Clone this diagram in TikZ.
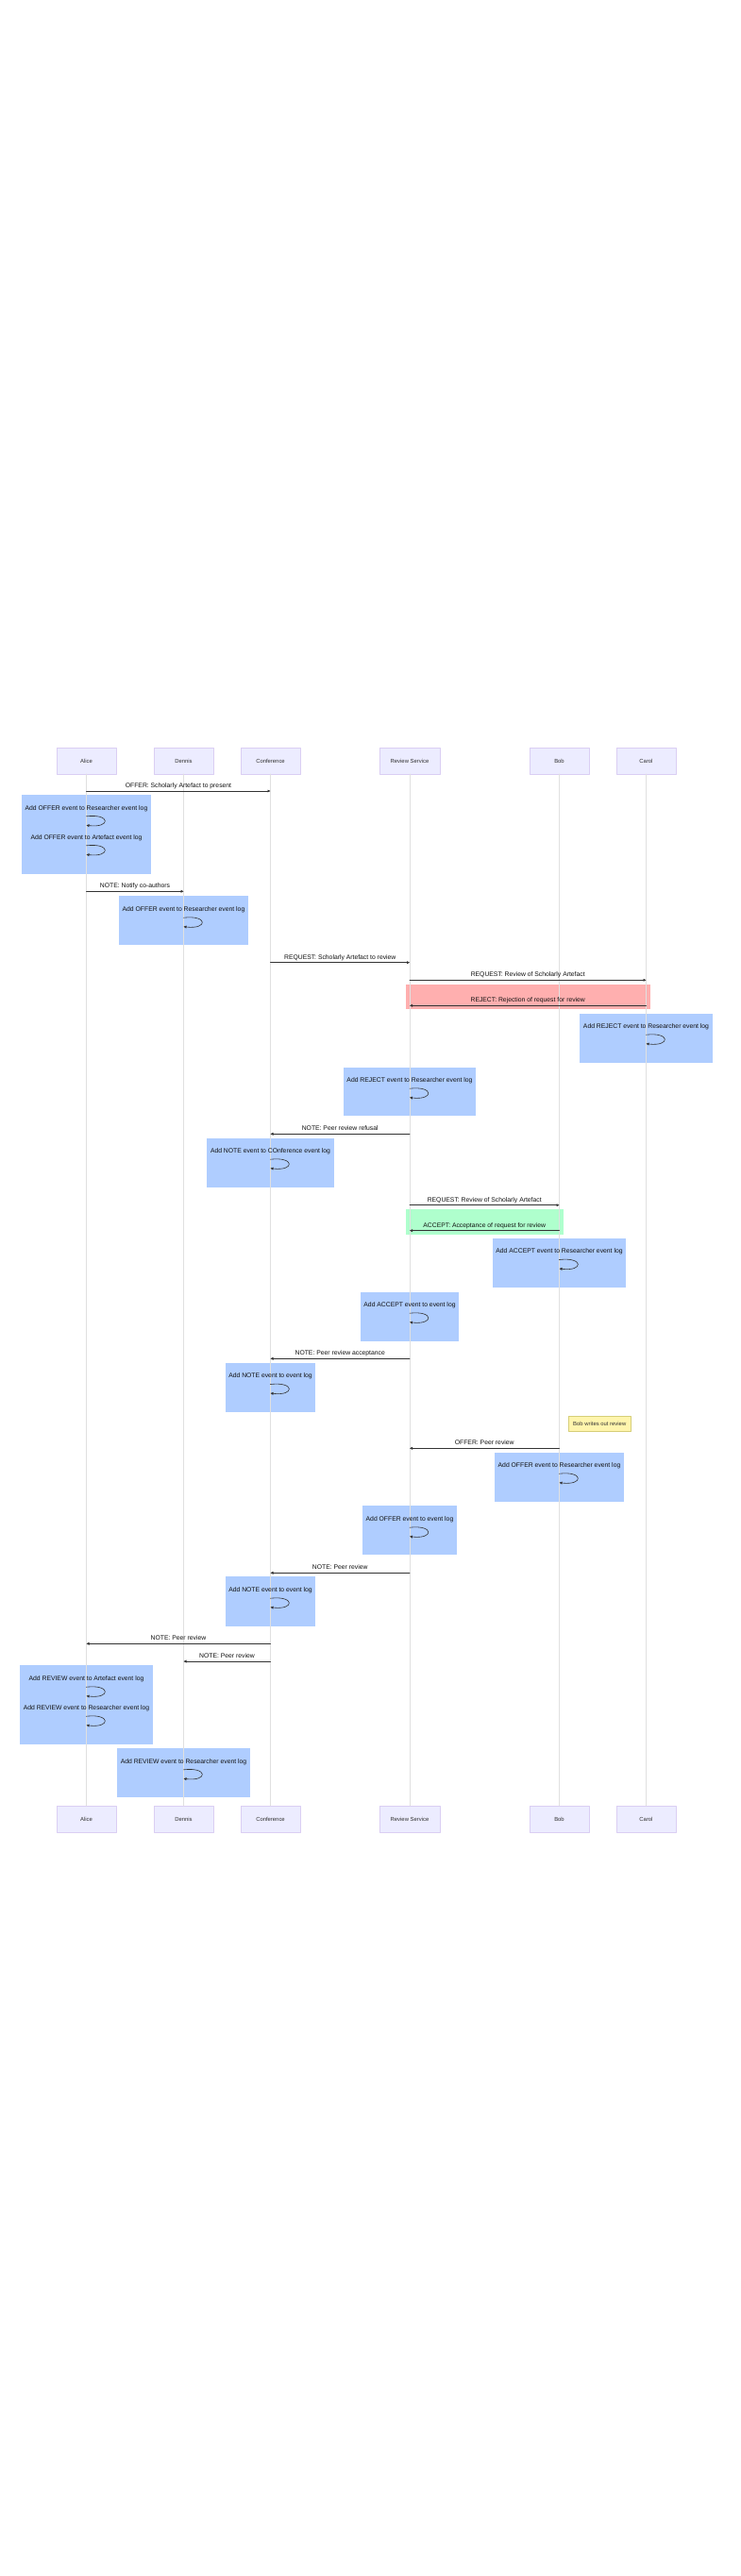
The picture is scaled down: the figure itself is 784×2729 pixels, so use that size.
\documentclass[tikz,border=0pt]{standalone}
\usepackage{fontspec}
\setmainfont{Liberation Sans}
\usetikzlibrary{arrows.meta}
\definecolor{actorfill}{RGB}{236,236,255}
\definecolor{actorline}{RGB}{218,206,243}
\definecolor{rectblue}{RGB}{175,205,255}
\definecolor{rectred}{RGB}{255,175,175}
\definecolor{rectgreen}{RGB}{175,255,205}
\definecolor{notefill}{RGB}{255,245,173}
\definecolor{noteline}{RGB}{214,206,120}
\definecolor{msgline}{HTML}{333333}
\definecolor{msgtext}{HTML}{111111}
\definecolor{lifeline}{RGB}{224,224,224}
\tikzset{
  actor/.style={draw=actorline,fill=actorfill,line width=0.4pt,minimum width=63.5pt,
    minimum height=27.5pt,inner sep=0pt,text=msgline,font=\fontsize{5.9}{7}\selectfont},
  life/.style={draw=lifeline,line width=0.5pt},
  msg/.style={draw=msgline,line width=0.6pt,-{Triangle[length=3pt,width=2.8pt]}},
  msglabel/.style={anchor=base,yshift=3.6pt,inner sep=0pt,text=msgtext,
    font=\fontsize{6.8}{8}\selectfont},
  looplabel/.style={msglabel,yshift=3.1pt},
  notebox/.style={draw=noteline,fill=notefill,line width=0.4pt,minimum width=65.5pt,
    minimum height=15.7pt,inner sep=0pt,text=msgline,font=\fontsize{5.9}{7}\selectfont}
}
\begin{document}
\begin{tikzpicture}[line cap=round,line join=round,x=1pt,y=-1pt]
\fill[white] (0,0) rectangle (784,2729);
\useasboundingbox (0,0) rectangle (784,2729);
% boxes behind the lifelines
\fill[rectblue] (23,842.3) rectangle (160,925.7);
\fill[rectblue] (126,949) rectangle (263,1001);
\fill[rectred] (430,1043) rectangle (688.5,1069.3);
\fill[rectblue] (614,1074) rectangle (754.5,1126);
\fill[rectblue] (363.5,1130.7) rectangle (504,1182.3);
\fill[rectblue] (219,1206) rectangle (353.5,1257.7);
\fill[rectgreen] (430,1281) rectangle (596.5,1307.7);
\fill[rectblue] (521.5,1312.3) rectangle (663,1364.3);
\fill[rectblue] (381.5,1369) rectangle (486,1421);
\fill[rectblue] (238.5,1444) rectangle (334,1496.3);
\fill[rectblue] (523.5,1539) rectangle (660.5,1590.7);
\fill[rectblue] (384,1595) rectangle (484,1647.3);
\fill[rectblue] (238.5,1670.3) rectangle (334,1722.7);
\fill[rectblue] (21,1764.3) rectangle (162,1847.7);
\fill[rectblue] (124,1852.3) rectangle (265,1904.3);
% actors
\node[actor] (aliceT) at (91.5,806) {Alice};
\node[actor] (dennisT) at (194.5,806) {Dennis};
\node[actor] (confT) at (286.5,806) {Conference};
\node[actor] (revT) at (434,806) {Review Service};
\node[actor] (bobT) at (592.5,806) {Bob};
\node[actor] (carolT) at (684.5,806) {Carol};
\node[actor] (aliceB) at (91.5,1927) {Alice};
\node[actor] (dennisB) at (194.5,1927) {Dennis};
\node[actor] (confB) at (286.5,1927) {Conference};
\node[actor] (revB) at (434,1927) {Review Service};
\node[actor] (bobB) at (592.5,1927) {Bob};
\node[actor] (carolB) at (684.5,1927) {Carol};
\draw[life] (aliceT) -- (aliceB);
\draw[life] (dennisT) -- (dennisB);
\draw[life] (confT) -- (confB);
\draw[life] (revT) -- (revB);
\draw[life] (bobT) -- (bobB);
\draw[life] (carolT) -- (carolB);
\path
(91.5,838) coordinate (m1a) (286.5,838) coordinate (m1b)
(91.5,944.3) coordinate (m2a) (194.5,944.3) coordinate (m2b)
(286.5,1019.7) coordinate (m3a) (434,1019.7) coordinate (m3b)
(434,1038.3) coordinate (m4a) (684.5,1038.3) coordinate (m4b)
(684.5,1065.3) coordinate (m5a) (434,1065.3) coordinate (m5b)
(434,1201.3) coordinate (m6a) (286.5,1201.3) coordinate (m6b)
(434,1276.7) coordinate (m7a) (592.5,1276.7) coordinate (m7b)
(592.5,1303.7) coordinate (m8a) (434,1303.7) coordinate (m8b)
(434,1439.3) coordinate (m9a) (286.5,1439.3) coordinate (m9b)
(592.5,1534.3) coordinate (m10a) (434,1534.3) coordinate (m10b)
(434,1666.3) coordinate (m11a) (286.5,1666.3) coordinate (m11b)
(286.5,1741.3) coordinate (m12a) (91.5,1741.3) coordinate (m12b)
(286.5,1760) coordinate (m13a) (194.5,1760) coordinate (m13b)
;
\path
(91.5,864.8) coordinate (l1a) (91.5,874.3) coordinate (l1b)
(91.5,895.8) coordinate (l2a) (91.5,905.3) coordinate (l2b)
(194.5,972.2) coordinate (l3a) (194.5,981.7) coordinate (l3b)
(684.5,1096.2) coordinate (l4a) (684.5,1105.7) coordinate (l4b)
(434,1153.2) coordinate (l5a) (434,1162.7) coordinate (l5b)
(286.5,1228.2) coordinate (l6a) (286.5,1237.7) coordinate (l6b)
(592.5,1334.5) coordinate (l7a) (592.5,1344) coordinate (l7b)
(434,1391.2) coordinate (l8a) (434,1400.7) coordinate (l8b)
(286.5,1466.5) coordinate (l9a) (286.5,1476) coordinate (l9b)
(592.5,1561.2) coordinate (l10a) (592.5,1570.7) coordinate (l10b)
(434,1618.2) coordinate (l11a) (434,1627.7) coordinate (l11b)
(286.5,1693.2) coordinate (l12a) (286.5,1702.7) coordinate (l12b)
(91.5,1787.2) coordinate (l13a) (91.5,1796.7) coordinate (l13b)
(91.5,1818.2) coordinate (l14a) (91.5,1827.7) coordinate (l14b)
(194.5,1874.8) coordinate (l15a) (194.5,1884.3) coordinate (l15b)
;
% messages
\draw[msg] (m1a) -- node[midway,msglabel] {OFFER: Scholarly Artefact to present} (m1b);
\draw[msg] (m2a) -- node[midway,msglabel] {NOTE: Notify co-authors} (m2b);
\draw[msg] (m3a) -- node[midway,msglabel] {REQUEST: Scholarly Artefact to review} (m3b);
\draw[msg] (m4a) -- node[midway,msglabel] {REQUEST: Review of Scholarly Artefact} (m4b);
\draw[msg] (m5a) -- node[midway,msglabel] {REJECT: Rejection of request for review} (m5b);
\draw[msg] (m6a) -- node[midway,msglabel] {NOTE: Peer review refusal} (m6b);
\draw[msg] (m7a) -- node[midway,msglabel] {REQUEST: Review of Scholarly Artefact} (m7b);
\draw[msg] (m8a) -- node[midway,msglabel] {ACCEPT: Acceptance of request for review} (m8b);
\draw[msg] (m9a) -- node[midway,msglabel] {NOTE: Peer review acceptance} (m9b);
\draw[msg] (m10a) -- node[midway,msglabel] {OFFER: Peer review} (m10b);
\draw[msg] (m11a) -- node[midway,msglabel] {NOTE: Peer review} (m11b);
\draw[msg] (m12a) -- node[midway,msglabel] {NOTE: Peer review} (m12b);
\draw[msg] (m13a) -- node[midway,msglabel] {NOTE: Peer review} (m13b);
% self calls
\draw[msg] (l1a) node[looplabel] {Add OFFER event to Researcher event log} .. controls +(26,-3) and +(26,3) .. (l1b);
\draw[msg] (l2a) node[looplabel] {Add OFFER event to Artefact event log} .. controls +(26,-3) and +(26,3) .. (l2b);
\draw[msg] (l3a) node[looplabel] {Add OFFER event to Researcher event log} .. controls +(26,-3) and +(26,3) .. (l3b);
\draw[msg] (l4a) node[looplabel] {Add REJECT event to Researcher event log} .. controls +(26,-3) and +(26,3) .. (l4b);
\draw[msg] (l5a) node[looplabel] {Add REJECT event to Researcher event log} .. controls +(26,-3) and +(26,3) .. (l5b);
\draw[msg] (l6a) node[looplabel] {Add NOTE event to COnference event log} .. controls +(26,-3) and +(26,3) .. (l6b);
\draw[msg] (l7a) node[looplabel] {Add ACCEPT event to Researcher event log} .. controls +(26,-3) and +(26,3) .. (l7b);
\draw[msg] (l8a) node[looplabel] {Add ACCEPT event to event log} .. controls +(26,-3) and +(26,3) .. (l8b);
\draw[msg] (l9a) node[looplabel] {Add NOTE event to event log} .. controls +(26,-3) and +(26,3) .. (l9b);
\draw[msg] (l10a) node[looplabel] {Add OFFER event to Researcher event log} .. controls +(26,-3) and +(26,3) .. (l10b);
\draw[msg] (l11a) node[looplabel] {Add OFFER event to event log} .. controls +(26,-3) and +(26,3) .. (l11b);
\draw[msg] (l12a) node[looplabel] {Add NOTE event to event log} .. controls +(26,-3) and +(26,3) .. (l12b);
\draw[msg] (l13a) node[looplabel] {Add REVIEW event to Artefact event log} .. controls +(26,-3) and +(26,3) .. (l13b);
\draw[msg] (l14a) node[looplabel] {Add REVIEW event to Researcher event log} .. controls +(26,-3) and +(26,3) .. (l14b);
\draw[msg] (l15a) node[looplabel] {Add REVIEW event to Researcher event log} .. controls +(26,-3) and +(26,3) .. (l15b);
% note
\node[notebox] (bobnote) at (635.25,1508) {Bob writes out review};
\end{tikzpicture}
\end{document}
